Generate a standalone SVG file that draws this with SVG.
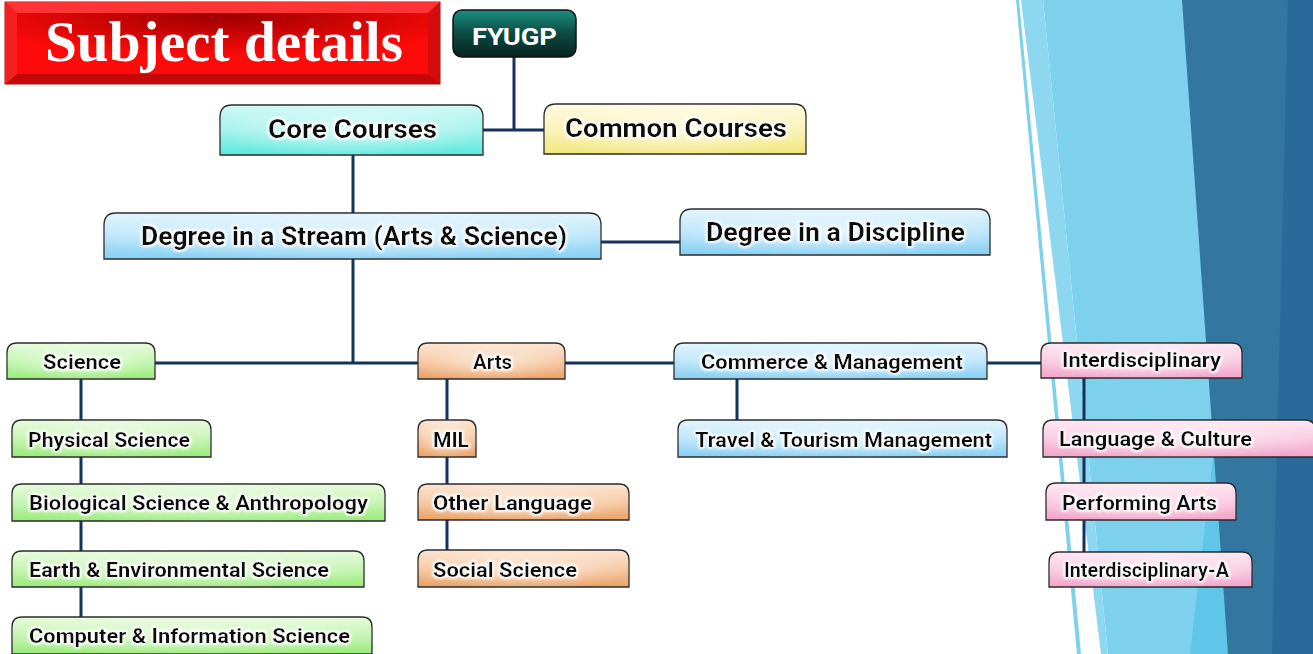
<svg xmlns="http://www.w3.org/2000/svg" width="1313" height="654" viewBox="0 0 1313 654">
<style>
.t{font-family:Roboto,"Liberation Sans",Arial,sans-serif;font-weight:bold;fill:#111;filter:url(#glow)}
.s19{font-size:20px}
.s24{font-size:25px}
.box{stroke:#2b2b2b;stroke-width:1.3}
.shine{fill:url(#shine);stroke:none}
.conn{stroke:#14325e;stroke-width:3;fill:none}
.cyan{fill:url(#gCyan)}
.yel{fill:url(#gYel)}
.blue{fill:url(#gBlue)}
.green{fill:url(#gGreen)}
.orange{fill:url(#gOrange)}
.pink{fill:url(#gPink)}
</style>
<defs>
<filter id="glow" x="-10%" y="-40%" width="120%" height="180%">
<feMorphology in="SourceAlpha" operator="dilate" radius="1.2" result="d"/>
<feGaussianBlur in="d" stdDeviation="1.6" result="b"/>
<feFlood flood-color="#ffffff"/>
<feComposite in2="b" operator="in" result="g"/>
<feMerge><feMergeNode in="g"/><feMergeNode in="g"/><feMergeNode in="SourceGraphic"/></feMerge>
</filter>
<radialGradient id="shine" cx="50%" cy="50%" r="55%">
<stop offset="0" stop-color="#fff" stop-opacity="0.6"/>
<stop offset="1" stop-color="#fff" stop-opacity="0"/>
</radialGradient>
<linearGradient id="gCyan" x1="0" y1="0" x2="0" y2="1"><stop offset="0" stop-color="#d2f9f5"/><stop offset="0.45" stop-color="#a4f3ec"/><stop offset="1" stop-color="#5ce9dc"/></linearGradient>
<linearGradient id="gYel" x1="0" y1="0" x2="0" y2="1"><stop offset="0" stop-color="#fefbe2"/><stop offset="0.45" stop-color="#faf3b8"/><stop offset="1" stop-color="#f3e67e"/></linearGradient>
<linearGradient id="gBlue" x1="0" y1="0" x2="0" y2="1"><stop offset="0" stop-color="#e4f5fd"/><stop offset="0.45" stop-color="#bfe7fa"/><stop offset="1" stop-color="#86cff3"/></linearGradient>
<linearGradient id="gGreen" x1="0" y1="0" x2="0" y2="1"><stop offset="0" stop-color="#e9fbe0"/><stop offset="0.45" stop-color="#c6f5b2"/><stop offset="1" stop-color="#9aeb7c"/></linearGradient>
<linearGradient id="gOrange" x1="0" y1="0" x2="0" y2="1"><stop offset="0" stop-color="#fce6d4"/><stop offset="0.45" stop-color="#f6c9a3"/><stop offset="1" stop-color="#eaa369"/></linearGradient>
<linearGradient id="gPink" x1="0" y1="0" x2="0" y2="1"><stop offset="0" stop-color="#fee9f3"/><stop offset="0.45" stop-color="#f9cde2"/><stop offset="1" stop-color="#f2a4ca"/></linearGradient>
<linearGradient id="gTeal" x1="0" y1="0" x2="0" y2="1"><stop offset="0" stop-color="#1a8f80"/><stop offset="0.5" stop-color="#0c4a43"/><stop offset="1" stop-color="#06231f"/></linearGradient>
<radialGradient id="gRed" cx="50%" cy="5%" r="65%"><stop offset="0" stop-color="#9e0000"/><stop offset="0.6" stop-color="#d80606"/><stop offset="1" stop-color="#ff0a0a"/></radialGradient>
</defs>

<rect x="0" y="0" width="1313" height="654" fill="#ffffff"/>
<g id="background">
<polygon points="1043,0 1313,0 1313,654 1108,654" fill="#7dd1ed"/>
<polygon points="1021,0 1043,0 1108,654 1101,654" fill="#8dd7f1"/>
<polygon points="1016,0 1019,0 1081,654 1077,654" fill="#7dd1ed"/>
<polygon points="1222,380 1230,654 1190,654" fill="#5fc6ea"/>
<polygon points="1182,0 1313,0 1313,654 1228,654" fill="#33769f"/>
<polygon points="1288,0 1313,0 1313,654 1272,654" fill="#2a6a9a"/>
</g>

<g id="title">
<rect x="5" y="2" width="435" height="82" fill="#e41010" stroke="#a01010" stroke-width="1"/>
<polygon points="5,2 440,2 428,13 17,13" fill="#ff3434"/>
<polygon points="5,84 440,84 428,74 17,74" fill="#c40808"/>
<polygon points="5,2 17,13 17,74 5,84" fill="#f42020"/>
<polygon points="440,2 428,13 428,74 440,84" fill="#d40c0c"/>
<rect x="17" y="13" width="411" height="61" fill="url(#gRed)"/>
<text x="45" y="61" textLength="358" lengthAdjust="spacingAndGlyphs" font-family="'Liberation Serif','Times New Roman',serif" font-weight="bold" font-size="56" fill="#ffffff">Subject details</text>
</g>

<g id="connectors">
<line class="conn" x1="514" y1="57" x2="514" y2="130"/>
<line class="conn" x1="483" y1="130" x2="544" y2="130"/>
<line class="conn" x1="353" y1="155" x2="353" y2="213"/>
<line class="conn" x1="601" y1="242" x2="680" y2="242"/>
<line class="conn" x1="353" y1="259" x2="353" y2="363"/>
<line class="conn" x1="155" y1="363" x2="418" y2="363"/>
<line class="conn" x1="565" y1="363" x2="674" y2="363"/>
<line class="conn" x1="987" y1="363" x2="1041" y2="363"/>
<line class="conn" x1="81" y1="379" x2="81" y2="617"/>
<line class="conn" x1="447" y1="379" x2="447" y2="550"/>
<line class="conn" x1="737" y1="379" x2="737" y2="420"/>
<line class="conn" x1="1084" y1="378" x2="1084" y2="552"/>
</g>

<g id="fyugp">
<rect x="453" y="10" width="123" height="47" rx="9" fill="url(#gTeal)" stroke="#111" stroke-width="1.5"/>
<text x="514.5" y="45" text-anchor="middle" textLength="85" lengthAdjust="spacingAndGlyphs" font-family="Roboto,'Liberation Sans',Arial,sans-serif" font-weight="bold" font-size="24" fill="#ffffff">FYUGP</text>
</g>

<g id="core-courses">
<path class="box cyan" d="M220,155 L220,117 Q220,105 232,105 L471,105 Q483,105 483,117 L483,155 Z"/>
<path class="shine" d="M220,155 L220,117 Q220,105 232,105 L471,105 Q483,105 483,117 L483,155 Z"/>
<text class="t s24" x="268" y="138" textLength="169" lengthAdjust="spacingAndGlyphs">Core Courses</text>
</g>

<g id="common-courses">
<path class="box yel" d="M544,154 L544,116 Q544,104 556,104 L794,104 Q806,104 806,116 L806,154 Z"/>
<path class="shine" d="M544,154 L544,116 Q544,104 556,104 L794,104 Q806,104 806,116 L806,154 Z"/>
<text class="t s24" x="565" y="137" textLength="222" lengthAdjust="spacingAndGlyphs">Common Courses</text>
</g>

<g id="degree-stream">
<path class="box blue" d="M104,259 L104,225 Q104,213 116,213 L589,213 Q601,213 601,225 L601,259 Z"/>
<path class="shine" d="M104,259 L104,225 Q104,213 116,213 L589,213 Q601,213 601,225 L601,259 Z"/>
<text class="t s24" x="141" y="245" textLength="426" lengthAdjust="spacingAndGlyphs">Degree in a Stream (Arts &amp; Science)</text>
</g>

<g id="degree-discipline">
<path class="box blue" d="M680,255 L680,221 Q680,209 692,209 L978,209 Q990,209 990,221 L990,255 Z"/>
<path class="shine" d="M680,255 L680,221 Q680,209 692,209 L978,209 Q990,209 990,221 L990,255 Z"/>
<text class="t s24" x="706" y="241" textLength="259" lengthAdjust="spacingAndGlyphs">Degree in a Discipline</text>
</g>

<g id="science">
<path class="box green" d="M7,379 L7,353 Q7,343 17,343 L145,343 Q155,343 155,353 L155,379 Z"/>
<path class="shine" d="M7,379 L7,353 Q7,343 17,343 L145,343 Q155,343 155,353 L155,379 Z"/>
<text class="t s19" x="43" y="369" textLength="78" lengthAdjust="spacingAndGlyphs">Science</text>
</g>

<g id="arts">
<path class="box orange" d="M418,379 L418,353 Q418,343 428,343 L555,343 Q565,343 565,353 L565,379 Z"/>
<path class="shine" d="M418,379 L418,353 Q418,343 428,343 L555,343 Q565,343 565,353 L565,379 Z"/>
<text class="t s19" x="473" y="369" textLength="39" lengthAdjust="spacingAndGlyphs">Arts</text>
</g>

<g id="commerce">
<path class="box blue" d="M674,379 L674,353 Q674,343 684,343 L977,343 Q987,343 987,353 L987,379 Z"/>
<path class="shine" d="M674,379 L674,353 Q674,343 684,343 L977,343 Q987,343 987,353 L987,379 Z"/>
<text class="t s19" x="701" y="369" textLength="262" lengthAdjust="spacingAndGlyphs">Commerce &amp; Management</text>
</g>

<g id="interdisciplinary">
<path class="box pink" d="M1041,378 L1041,353 Q1041,343 1051,343 L1232,343 Q1242,343 1242,353 L1242,378 Z"/>
<path class="shine" d="M1041,378 L1041,353 Q1041,343 1051,343 L1232,343 Q1242,343 1242,353 L1242,378 Z"/>
<text class="t s19" x="1062" y="367" textLength="159" lengthAdjust="spacingAndGlyphs">Interdisciplinary</text>
</g>

<g id="physical-science">
<path class="box green" d="M12,457 L12,430 Q12,420 22,420 L201,420 Q211,420 211,430 L211,457 Z"/>
<path class="shine" d="M12,457 L12,430 Q12,420 22,420 L201,420 Q211,420 211,430 L211,457 Z"/>
<text class="t s19" x="28" y="447" textLength="162" lengthAdjust="spacingAndGlyphs">Physical Science</text>
</g>

<g id="biological-science">
<path class="box green" d="M12,521 L12,494 Q12,484 22,484 L375,484 Q385,484 385,494 L385,521 Z"/>
<path class="shine" d="M12,521 L12,494 Q12,484 22,484 L375,484 Q385,484 385,494 L385,521 Z"/>
<text class="t s19" x="29" y="510" textLength="339" lengthAdjust="spacingAndGlyphs">Biological Science &amp; Anthropology</text>
</g>

<g id="earth-science">
<path class="box green" d="M12,587 L12,561 Q12,551 22,551 L354,551 Q364,551 364,561 L364,587 Z"/>
<path class="shine" d="M12,587 L12,561 Q12,551 22,551 L354,551 Q364,551 364,561 L364,587 Z"/>
<text class="t s19" x="29" y="577" textLength="300" lengthAdjust="spacingAndGlyphs">Earth &amp; Environmental Science</text>
</g>

<g id="computer-science">
<path class="box green" d="M12,654 L12,627 Q12,617 22,617 L362,617 Q372,617 372,627 L372,654 Z"/>
<path class="shine" d="M12,654 L12,627 Q12,617 22,617 L362,617 Q372,617 372,627 L372,654 Z"/>
<text class="t s19" x="29" y="643" textLength="321" lengthAdjust="spacingAndGlyphs">Computer &amp; Information Science</text>
</g>

<g id="mil">
<path class="box orange" d="M418,457 L418,430 Q418,420 428,420 L466,420 Q476,420 476,430 L476,457 Z"/>
<path class="shine" d="M418,457 L418,430 Q418,420 428,420 L466,420 Q476,420 476,430 L476,457 Z"/>
<text class="t s19" x="433" y="447" textLength="36" lengthAdjust="spacingAndGlyphs">MIL</text>
</g>

<g id="other-language">
<path class="box orange" d="M418,520 L418,494 Q418,484 428,484 L619,484 Q629,484 629,494 L629,520 Z"/>
<path class="shine" d="M418,520 L418,494 Q418,484 428,484 L619,484 Q629,484 629,494 L629,520 Z"/>
<text class="t s19" x="433" y="510" textLength="159" lengthAdjust="spacingAndGlyphs">Other Language</text>
</g>

<g id="social-science">
<path class="box orange" d="M418,587 L418,560 Q418,550 428,550 L619,550 Q629,550 629,560 L629,587 Z"/>
<path class="shine" d="M418,587 L418,560 Q418,550 428,550 L619,550 Q629,550 629,560 L629,587 Z"/>
<text class="t s19" x="433" y="577" textLength="144" lengthAdjust="spacingAndGlyphs">Social Science</text>
</g>

<g id="travel-tourism">
<path class="box blue" d="M678,457 L678,430 Q678,420 688,420 L997,420 Q1007,420 1007,430 L1007,457 Z"/>
<path class="shine" d="M678,457 L678,430 Q678,420 688,420 L997,420 Q1007,420 1007,430 L1007,457 Z"/>
<text class="t s19" x="695" y="447" textLength="297" lengthAdjust="spacingAndGlyphs">Travel &amp; Tourism Management</text>
</g>

<g id="language-culture">
<path class="box pink" d="M1043,457 L1043,430 Q1043,420 1053,420 L1305,420 Q1315,420 1315,430 L1315,457 Z"/>
<path class="shine" d="M1043,457 L1043,430 Q1043,420 1053,420 L1305,420 Q1315,420 1315,430 L1315,457 Z"/>
<text class="t s19" x="1059" y="446" textLength="193" lengthAdjust="spacingAndGlyphs">Language &amp; Culture</text>
</g>

<g id="performing-arts">
<path class="box pink" d="M1046,520 L1046,493 Q1046,483 1056,483 L1226,483 Q1236,483 1236,493 L1236,520 Z"/>
<path class="shine" d="M1046,520 L1046,493 Q1046,483 1056,483 L1226,483 Q1236,483 1236,493 L1236,520 Z"/>
<text class="t s19" x="1062" y="510" textLength="155" lengthAdjust="spacingAndGlyphs">Performing Arts</text>
</g>

<g id="interdisciplinary-a">
<path class="box pink" d="M1049,587 L1049,562 Q1049,552 1059,552 L1242,552 Q1252,552 1252,562 L1252,587 Z"/>
<path class="shine" d="M1049,587 L1049,562 Q1049,552 1059,552 L1242,552 Q1252,552 1252,562 L1252,587 Z"/>
<text class="t s19" x="1064" y="577" textLength="165" lengthAdjust="spacingAndGlyphs">Interdisciplinary-A</text>
</g>
</svg>
